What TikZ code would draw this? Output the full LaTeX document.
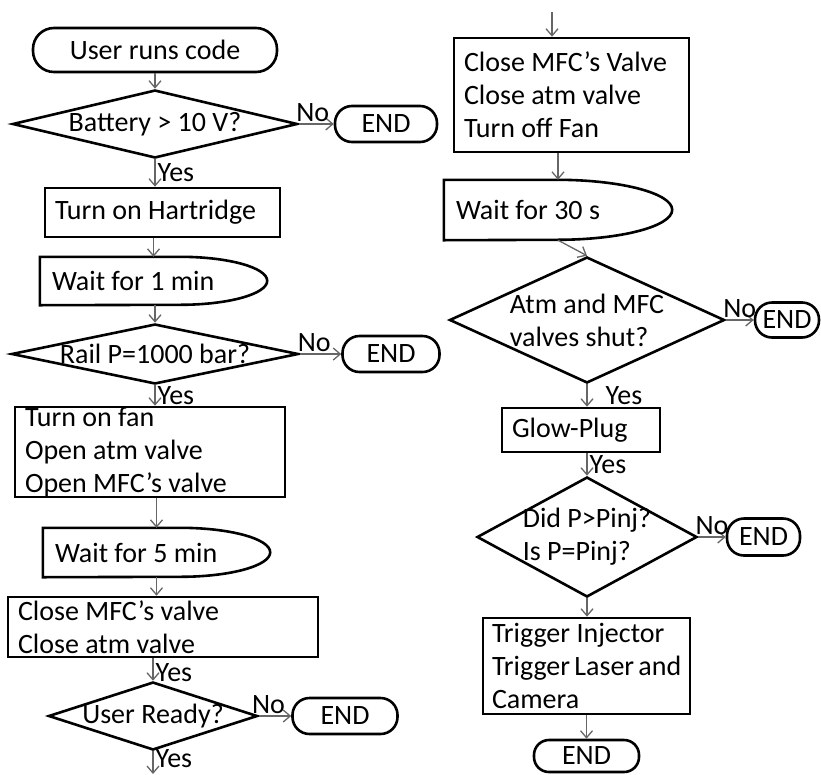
\documentclass[tikz,border=0pt]{standalone}
\usepackage{fontspec}
\setmainfont{Carlito}
\usetikzlibrary{shapes.geometric,arrows.meta}
\begin{document}
\begin{tikzpicture}[x=1pt,y=-1pt,font=\fontsize{28}{33}\selectfont,
  terminal/.style={draw,rectangle,rounded corners=17pt,line width=2.6pt,minimum height=36pt,inner sep=0pt},
  procbox/.style={draw,rectangle,line width=2.6pt,inner xsep=10pt,inner ysep=0pt,align=flush left},
  delaybox/.style={rectangle,inner xsep=12pt,inner ysep=0pt,align=flush left},
  decision/.style={diamond,draw,line width=2.6pt,inner sep=0pt,align=left},
  flow/.style={draw=black!60,line width=1.3pt,-{Straight Barb[length=7pt,width=12pt]}},
  lbl/.style={inner sep=2pt}]
\useasboundingbox (0,0) rectangle (821,774);
\node[terminal,rounded corners=21pt,minimum width=244pt,minimum height=44pt] (start) at (155,50) {User runs code};
\node[decision,minimum width=285pt,minimum height=68pt,aspect=4.2,inner xsep=-9pt] (bat) at (155,124) {Battery > 10 V?};
\node[terminal,minimum width=102pt] (endA) at (386,124) {END};
\node[procbox,text width=215pt,minimum height=49pt] (hart) at (162.5,212.5) {Turn on Hartridge};
\node[delaybox,text width=203pt,minimum height=48pt] (wait1) at (153.5,281) {Wait for 1 min};
\node[decision,minimum width=287pt,minimum height=60pt,aspect=4.8,inner xsep=-21pt] (rail) at (155,354) {Rail P=1000 bar?};
\node[terminal,minimum width=97pt] (endB) at (391,354) {END};
\node[procbox,text width=250pt,minimum height=90pt] (fan) at (150,452) {Turn on fan\\Open atm valve\\Open MFC’s valve};
\node[delaybox,text width=203pt,minimum height=49pt] (wait5) at (156.5,552.5) {Wait for 5 min};
\node[procbox,text width=290pt,minimum height=60pt] (closeL) at (163,627) {Close MFC’s valve\\Close atm valve};
\node[decision,minimum width=209pt,minimum height=68pt,aspect=3.07,inner xsep=-10pt] (ready) at (153,716) {User Ready?};
\node[terminal,minimum width=105pt] (endC) at (345,716) {END};
\coordinate (outL) at (153,774);
\coordinate (inR) at (552,12);
\node[procbox,text width=215pt,minimum height=114pt] (closeR) at (571.5,95) {Close MFC’s Valve\\Close atm valve\\Turn off Fan};
\node[delaybox,text width=204pt,minimum height=60pt] (wait30) at (558,210) {Wait for 30 s};
\node[decision,minimum width=275pt,minimum height=126pt,aspect=2.18,inner xsep=-8pt] (atm) at (587,320) {Atm and MFC\\valves shut?};
\node[terminal,minimum width=64pt,minimum height=35pt] (endD) at (787,320) {END};
\node[procbox,text width=138pt,minimum height=44pt] (glow) at (581,430) {Glow-Plug};
\node[decision,minimum width=220pt,minimum height=120pt,aspect=1.83,inner xsep=-11pt] (did) at (587,537) {Did P>Pinj?\\Is P=Pinj?};
\node[terminal,minimum width=73pt,minimum height=37pt] (endE) at (763.5,537) {END};
\node[procbox,text width=189pt,inner xsep=9pt,minimum height=96pt] (trig) at (586.5,666) {Trigger Injector\\Trigger~Laser~and\\Camera};
\node[terminal,rounded corners=15pt,minimum width=105pt,minimum height=32pt] (endF) at (586.5,756) {END};
\foreach \n/\r/\h in {wait1/87/24,wait5/90/24.5,wait30/115/30}
  \draw[line width=2.6pt] (\n.north west) -- ([xshift=-\r pt]\n.north east) arc[start angle=90,end angle=-90,x radius=\r pt,y radius=\h pt] -- (\n.south west) -- cycle;
\draw[flow] (start) -- (bat);
\draw[flow] (bat.east) -- node[lbl,above,pos=0.4] {No} (endA.west);
\draw[flow] (bat.south) -- node[lbl,right] {Yes} (bat.south |- hart.north);
\draw[flow] (wait1.north |- hart.south) -- (wait1.north);
\draw[flow] (rail.north |- wait1.south) -- (rail.north);
\draw[flow] (rail.east) -- node[lbl,above,pos=0.35] {No} (endB.west);
\draw[flow] (rail.south) -- node[lbl,right] {Yes} (rail.south |- fan.north);
\draw[flow] (wait5.north |- fan.south) -- (wait5.north);
\draw[flow] (wait5.south) -- (wait5.south |- closeL.north);
\draw[flow] (ready.north |- closeL.south) -- node[lbl,right,pos=0.65] {Yes} (ready.north);
\draw[flow] (ready.east) -- node[lbl,above,pos=0.3] {No} (endC.west);
\draw[flow] (ready.south) -- node[lbl,right,pos=0.3] {Yes} (outL);
\draw[flow] (inR) -- (inR |- closeR.north);
\draw[flow] (wait30.north |- closeR.south) -- (wait30.north);
\draw[flow] (wait30.south) -- (atm.north);
\draw[flow] (atm.east) -- node[lbl,above] {No} (endD.west);
\draw[flow] (atm.south) -- node[lbl,right,xshift=16pt] {Yes} (atm.south |- glow.north);
\draw[flow] (did.north |- glow.south) -- node[lbl,right] {Yes} (did.north);
\draw[flow] (did.east) -- node[lbl,above] {No} (endE.west);
\draw[flow] (did.south) -- (did.south |- trig.north);
\draw[flow] (trig.south) -- (endF.north);
\end{tikzpicture}
\end{document}
